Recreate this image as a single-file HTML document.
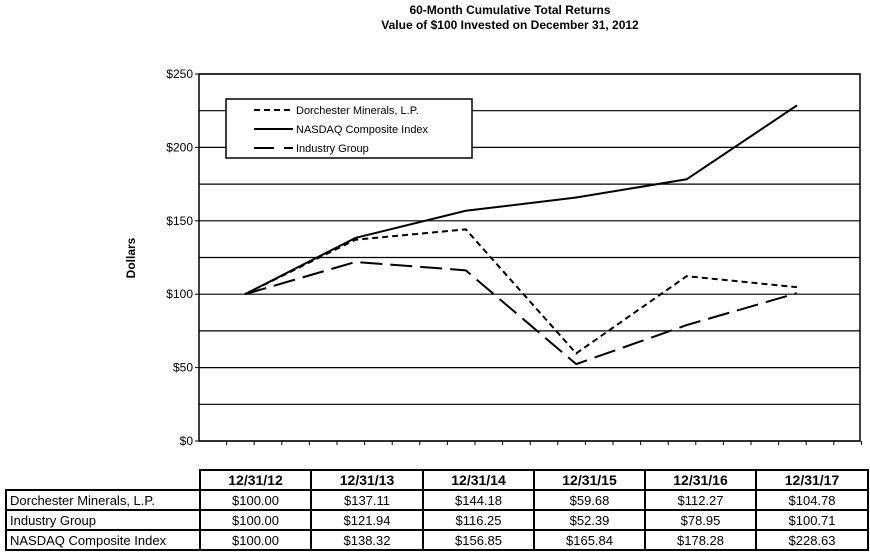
<!DOCTYPE html>
<html><head><meta charset="utf-8"><style>
body{margin:0;background:#fff;width:870px;height:556px;overflow:hidden;font-family:"Liberation Sans",sans-serif;}
table{position:absolute;border-collapse:collapse;font-size:13px;table-layout:fixed;width:862px;}
td{border:2px solid #000;height:18px;padding:0 3px;text-align:center;overflow:hidden;white-space:nowrap;}
</style></head><body>
<svg id="chart" width="870" height="556" style="position:absolute;left:0;top:0"></svg>
<table style="left:5px;top:469px;">
<colgroup><col style="width:194px"><col style="width:111px"><col style="width:112px"><col style="width:111px"><col style="width:111px"><col style="width:111px"><col style="width:112px"></colgroup>
<tr><td style="border:none;border-bottom:2px solid #000"></td><td style="font-weight:bold;font-size:14px">12/31/12</td><td style="font-weight:bold;font-size:14px">12/31/13</td><td style="font-weight:bold;font-size:14px">12/31/14</td><td style="font-weight:bold;font-size:14px">12/31/15</td><td style="font-weight:bold;font-size:14px">12/31/16</td><td style="font-weight:bold;font-size:14px">12/31/17</td></tr>
<tr><td style="text-align:left">Dorchester Minerals, L.P.</td><td>$100.00</td><td>$137.11</td><td>$144.18</td><td>$59.68</td><td>$112.27</td><td>$104.78</td></tr>
<tr><td style="text-align:left">Industry Group</td><td>$100.00</td><td>$121.94</td><td>$116.25</td><td>$52.39</td><td>$78.95</td><td>$100.71</td></tr>
<tr><td style="text-align:left">NASDAQ Composite Index</td><td>$100.00</td><td>$138.32</td><td>$156.85</td><td>$165.84</td><td>$178.28</td><td>$228.63</td></tr>
</table>
<script>
const categories=["12/31/12","12/31/13","12/31/14","12/31/15","12/31/16","12/31/17"];
const dorchester=[100,137.11,144.18,59.68,112.27,104.78];
const industry=[100,121.94,116.25,52.39,78.95,100.71];
const nasdaq=[100,138.32,156.85,165.84,178.28,228.63];
const yTicks=[0,50,100,150,200,250];
const NS="http://www.w3.org/2000/svg";
const svg=document.getElementById('chart');
const L=199,R=860,T=74,B=441;
function y(v){return B-(v/250)*(B-T);}
function x(i){return 245+i*110.4;}
function mk(t,a,p){const e=document.createElementNS(NS,t);for(const k in a)e.setAttribute(k,a[k]);(p||svg).appendChild(e);return e;}
function txt(s,a){const e=mk('text',a);e.textContent=s;return e;}
let e;
e=txt("60-Month Cumulative Total Returns",{x:510,y:14,'text-anchor':'middle','font-size':12,'font-weight':'bold'});

e=txt("Value of $100 Invested on December 31, 2012",{x:510,y:29,'text-anchor':'middle','font-size':12,'font-weight':'bold'});

for(let v=0;v<=250;v+=25){e=mk('line',{x1:L,x2:R,y1:y(v),y2:y(v),stroke:'#000','stroke-width':1.2});
}
yTicks.forEach(v=>{e=txt('$'+v,{x:L-6,y:y(v)+4,'text-anchor':'end','font-size':12});

mk('line',{x1:L-4,x2:L,y1:y(v),y2:y(v),stroke:'#000'});});
e=mk('rect',{x:L,y:T,width:R-L,height:B-T,fill:'none',stroke:'#000','stroke-width':1.5});

for(let i=0;i<24;i++){const xx=L+27.6*(i+1);mk('line',{x1:xx,x2:xx,y1:B,y2:B+4,stroke:'#000'});}
e=txt('Dollars',{x:0,y:0,'font-size':12,'font-weight':'bold','text-anchor':'middle',transform:'translate(135,258) rotate(-90)'});

function series(d,dash,name){const pts=d.map((v,i)=>x(i)+','+y(v)).join(' ');
e=mk('polyline',{points:pts,fill:'none',stroke:'#000','stroke-width':2,'stroke-dasharray':dash});
}
series(industry,'22,8','line-industry-group');
series(dorchester,'6,4','line-dorchester');
series(nasdaq,'none','line-nasdaq');
const lg=mk('g',{});
mk('rect',{x:226,y:99,width:246,height:59,fill:'#fff',stroke:'#000','stroke-width':1.5},lg);
const items=[["Dorchester Minerals, L.P.",'6,4'],["NASDAQ Composite Index",'none'],["Industry Group",'20,10']];
items.forEach((it,i)=>{const yy=110+i*19;
e=mk('line',{x1:254,x2:293,y1:yy,y2:yy,stroke:'#000','stroke-width':2,'stroke-dasharray':it[1]},lg);

e=mk('text',{x:296,y:yy+4,'font-size':11},lg);e.textContent=it[0];
});
</script>
</body></html>
